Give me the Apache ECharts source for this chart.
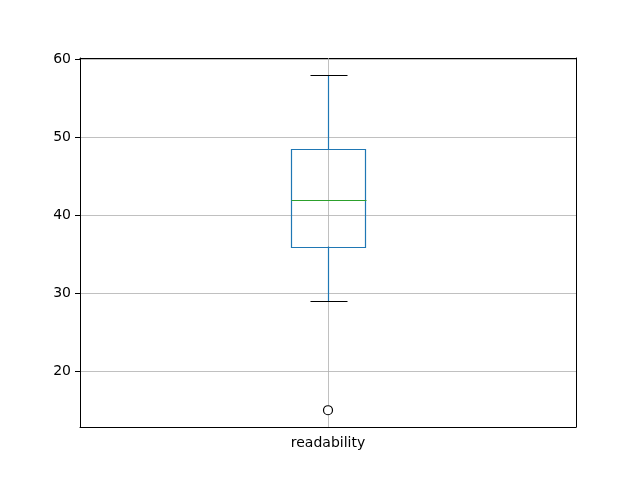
<!DOCTYPE html>
<html>
<head>
<meta charset="utf-8">
<script src="https://cdn.jsdelivr.net/npm/echarts@6/dist/echarts.min.js"></script>
<style>
  html, body { margin: 0; padding: 0; background: #fff; }
  #chart { width: 640px; height: 480px; }
</style>
</head>
<body>
<div id="chart"></div>
<script>
// 类别
const categories = ["readability"];
// 箱线: 下须, Q1, 中位数, Q3, 上须
const boxStats = [[29, 36, 42, 48.5, 58]];
// 离群点
const outliers = [[0, 15]];
// y 轴范围
const yMin = 12.85;
const yMax = 60.15;

const chart = echarts.init(document.getElementById("chart"));

function renderBox(params, api) {
  const x = api.value(0);
  const lo = api.coord([x, api.value(1)]);
  const q1 = api.coord([x, api.value(2)]);
  const med = api.coord([x, api.value(3)]);
  const q3 = api.coord([x, api.value(4)]);
  const hi = api.coord([x, api.value(5)]);
  const top = api.coord([x, yMax]);
  const bottom = api.coord([x, yMin]);
  const band = api.size([1, 0])[0];
  // 箱宽为类别宽度的 0.15, 须线帽为箱宽的一半
  const boxW = band * 0.075;
  const capW = boxW * 0.5;
  const cx = Math.round(lo[0]) + 0.5;
  const r = (v) => Math.round(v) + 0.5;
  const blue = { stroke: "#1f77b4", lineWidth: 1.2 };
  return {
    type: "group",
    children: [
      // 竖直网格线
      { type: "line", shape: { x1: cx, y1: top[1], x2: cx, y2: bottom[1] },
        style: { stroke: "#b0b0b0", lineWidth: 0.8 } },
      { type: "line", shape: { x1: cx, y1: r(lo[1]), x2: cx, y2: r(q1[1]) }, style: blue },
      { type: "line", shape: { x1: cx, y1: r(q3[1]), x2: cx, y2: r(hi[1]) }, style: blue },
      { type: "rect", shape: { x: r(cx - boxW), y: r(q3[1]), width: Math.round(boxW * 2), height: Math.round(q1[1] - q3[1]) },
        style: { fill: "none", stroke: "#1f77b4", lineWidth: 1.2 } },
      { type: "line", shape: { x1: r(cx - boxW), y1: r(med[1]), x2: r(cx + boxW), y2: r(med[1]) },
        style: { stroke: "#2ca02c", lineWidth: 1.2 } },
      { type: "line", shape: { x1: r(cx - capW), y1: r(lo[1]), x2: r(cx + capW), y2: r(lo[1]) },
        style: { stroke: "#000", lineWidth: 1.2 } },
      { type: "line", shape: { x1: r(cx - capW), y1: r(hi[1]), x2: r(cx + capW), y2: r(hi[1]) },
        style: { stroke: "#000", lineWidth: 1.2 } }
    ]
  };
}

const option = {
  animation: false,
  grid: { left: 80, right: 64, top: 58, bottom: 53 },
  xAxis: [
    {
      type: "category",
      data: categories,
      boundaryGap: true,
      axisLine: { lineStyle: { color: "#000", width: 1 } },
      axisTick: { alignWithLabel: true, length: 5, lineStyle: { color: "#000" } },
      axisLabel: { color: "#000", fontFamily: "DejaVu Sans", fontSize: 14, margin: 9 },
      splitLine: { show: false }
    },
    {
      // 上边框
      type: "category",
      data: categories,
      position: "top",
      axisLine: { lineStyle: { color: "#000", width: 1 } },
      axisTick: { show: false },
      axisLabel: { show: false },
      splitLine: { show: false }
    }
  ],
  yAxis: [
    {
      type: "value",
      min: yMin,
      max: yMax,
      axisLine: { show: true, lineStyle: { color: "#000", width: 1 } },
      axisTick: { show: true, length: 5, lineStyle: { color: "#000" } },
      axisLabel: {
        color: "#000", fontFamily: "DejaVu Sans", fontSize: 14, margin: 9,
        showMinLabel: false, showMaxLabel: false
      },
      splitLine: { show: true, lineStyle: { color: "#b0b0b0", width: 0.8 } }
    },
    {
      // 右边框
      type: "value",
      min: yMin,
      max: yMax,
      position: "right",
      axisLine: { show: true, lineStyle: { color: "#000", width: 1 } },
      axisTick: { show: false },
      axisLabel: { show: false },
      splitLine: { show: false }
    }
  ],
  series: [
    {
      type: "custom",
      renderItem: renderBox,
      encode: { x: 0, y: [1, 2, 3, 4, 5] },
      data: boxStats.map((d, i) => [i].concat(d)),
      z: 3
    },
    {
      type: "scatter",
      data: outliers,
      symbol: "circle",
      symbolSize: 9,
      itemStyle: { color: "#fff", borderColor: "#000", borderWidth: 1.2, opacity: 1 },
      z: 4
    }
  ]
};

chart.setOption(option);
</script>
</body>
</html>
